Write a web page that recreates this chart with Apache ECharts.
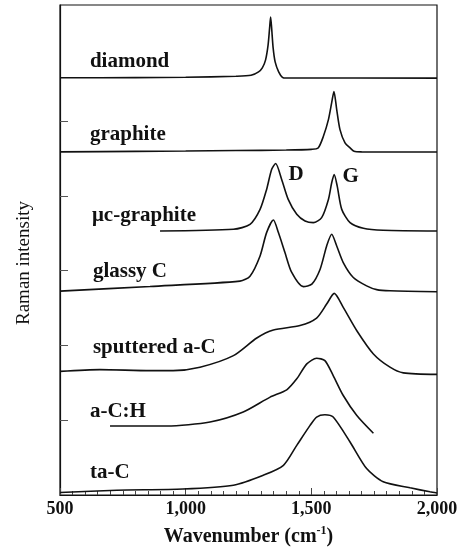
<!DOCTYPE html>
<html>
<head>
<meta charset="utf-8">
<script src="https://cdn.jsdelivr.net/npm/echarts@6/dist/echarts.min.js"></script>
<style>
html,body{margin:0;padding:0;background:#fff;}
#chart{width:464px;height:552px;}
</style>
</head>
<body>
<div id="chart"></div>
<script>
// Wavenumber (cm-1) and stacked Raman intensity (arbitrary units, offset per spectrum)
const diamondX = [500, 800, 1000, 1200, 1260, 1290, 1305, 1318, 1328, 1334, 1338, 1342, 1348, 1356, 1370, 1385, 1400, 2000];
const diamondY = [418.5, 418.7, 419, 420, 421, 424.5, 428.5, 436.5, 451.5, 468.5, 479.5, 468.5, 448.5, 434.5, 424.5, 419, 418.3, 418.2];

const graphiteX = [500, 800, 1000, 1200, 1400, 1500, 1527, 1548, 1568, 1581, 1590, 1601, 1614, 1634, 1654, 1670, 1700, 2000];
const graphiteY = [344.2, 344.7, 345, 345.5, 346, 346.7, 348, 359.8, 376.5, 393.5, 404.8, 386.5, 366.5, 353.2, 348.2, 344.8, 344.2, 344];

const mcGraphiteX = [898, 1190, 1256, 1296, 1322, 1342, 1358, 1382, 1408, 1442, 1475, 1508, 1541, 1568, 1581, 1591, 1603, 1621, 1654, 1707, 1786, 2000];
const mcGraphiteY = [264.8, 266.5, 271.5, 286.5, 306.5, 326.5, 332.5, 316.5, 296.5, 281.5, 274.8, 273.2, 278.2, 296.5, 313.2, 321.5, 309.8, 286.5, 273.2, 267.5, 265.5, 264.8];

const glassyX = [500, 858, 1216, 1256, 1296, 1322, 1349, 1369, 1395, 1422, 1468, 1502, 1535, 1561, 1581, 1601, 1627, 1667, 1720, 1760, 1813, 2000];
const glassyY = [204.5, 209.2, 214.5, 219.5, 239.8, 263.2, 275.8, 263.2, 243.2, 223.2, 209, 211.5, 226.5, 249.8, 261.5, 249.8, 233.2, 218.2, 209.8, 206, 204.8, 203.8];

const sputteredX = [500, 659, 858, 950, 1057, 1190, 1283, 1349, 1455, 1521, 1561, 1591, 1627, 1681, 1747, 1813, 1866, 2000];
const sputteredY = [124, 125.8, 124.8, 124.8, 128.2, 139.8, 157.5, 165.5, 170, 177.5, 191.5, 202.2, 188.2, 164.8, 141.5, 128.2, 122.5, 121];

const acHX = [699, 925, 1097, 1229, 1336, 1402, 1442, 1482, 1521, 1554, 1587, 1627, 1681, 1747];
const acHY = [69.2, 69.2, 73.2, 83.2, 98.2, 105.5, 116.5, 131.5, 137.2, 134.8, 119.8, 99.8, 79.8, 62];

const taCX = [500, 726, 989, 1190, 1309, 1389, 1442, 1495, 1521, 1554, 1587, 1654, 1720, 1786, 1893, 1972, 2000];
const taCY = [2.5, 4.8, 6, 9.8, 19.8, 29.8, 49.8, 69.8, 78.2, 80.5, 78.2, 53.2, 26.5, 13.2, 7.2, 3.2, 2];

const xTicks = [500, 1000, 1500, 2000];
const yTickValues = [75, 150, 225, 300, 375];

const seriesNames = ['diamond', 'graphite', 'μc-graphite', 'glassy C', 'sputtered a-C', 'a-C:H', 'ta-C'];
const seriesX = [diamondX, graphiteX, mcGraphiteX, glassyX, sputteredX, acHX, taCX];
const seriesY = [diamondY, graphiteY, mcGraphiteY, glassyY, sputteredY, acHY, taCY];

// annotation anchors (wavenumber, intensity) for text labels
const labelAnchors = [[619, 434.5], [619, 362], [627, 280], [631, 224.5], [631, 147.5], [619, 83.5], [619, 22]];
const peakLabels = [['D', 1409, 321], ['G', 1624, 319]];

const FONT = '"Liberation Serif", "DejaVu Serif", serif';
const ink = '#111';

const series = seriesNames.map((name, i) => {
  const s = {
    name: name,
    type: 'line',
    data: seriesX[i].map((x, j) => [x, seriesY[i][j]]),
    showSymbol: false,
    smooth: 0.25,
    lineStyle: { color: ink, width: 1.6 },
    silent: true,
    z: 3,
    markPoint: {
      symbol: 'circle',
      symbolSize: 0,
      silent: true,
      data: [{
        coord: labelAnchors[i],
        value: name,
        label: {
          show: true,
          position: 'right',
          distance: 0,
          formatter: name,
          fontFamily: FONT,
          fontWeight: 'bold',
          fontSize: 21,
          color: ink
        }
      }]
    }
  };
  if (i === 2) {
    peakLabels.forEach(p => {
      s.markPoint.data.push({
        coord: [p[1], p[2]],
        value: p[0],
        label: {
          show: true, position: 'right', distance: 0, formatter: p[0],
          fontFamily: FONT, fontWeight: 'bold', fontSize: 21, color: ink
        }
      });
    });
  }
  return s;
});

const chart = echarts.init(document.getElementById('chart'), null, { renderer: 'canvas' });
chart.setOption({
  backgroundColor: '#fff',
  animation: false,
  grid: {
    left: 60, right: 27, top: 5, bottom: 55.5,
    show: true, borderColor: ink, borderWidth: 1.2, backgroundColor: 'transparent'
  },
  xAxis: {
    type: 'value',
    min: 500, max: 2000, interval: 500,
    name: '{a|Wavenumber (cm}{s|-1}{a|)}',
    nameLocation: 'middle',
    nameGap: 30,
    nameTextStyle: {
      rich: {
        a: { fontFamily: FONT, fontWeight: 'bold', fontSize: 20, color: ink, verticalAlign: 'bottom', lineHeight: 22 },
        s: { fontFamily: FONT, fontWeight: 'bold', fontSize: 12, color: ink, verticalAlign: 'top', padding: [0, 0, 10, 0], lineHeight: 22 }
      }
    },
    axisLine: { show: true, lineStyle: { color: ink, width: 1.2 } },
    axisTick: { show: true, inside: true, length: 7, lineStyle: { color: '#444', width: 1 } },
    minorTick: { show: true, splitNumber: 10, length: 4, lineStyle: { color: '#444', width: 1 } },
    splitLine: { show: false },
    minorSplitLine: { show: false },
    axisLabel: {
      margin: 5,
      fontFamily: FONT, fontWeight: 'bold', fontSize: 18, color: ink,
      formatter: v => xTicks.includes(v) ? v.toLocaleString('en-US') : ''
    }
  },
  yAxis: {
    type: 'value',
    min: 0, max: 491.5,
    name: 'Raman intensity',
    nameLocation: 'middle',
    nameGap: 26,
    nameTextStyle: { fontFamily: FONT, fontSize: 19, color: ink, padding: [0, 26, 0, 0] },
    axisLine: { show: true, lineStyle: { color: ink, width: 1.2 } },
    axisTick: { show: true, inside: true, length: 8, customValues: yTickValues, lineStyle: { color: '#555', width: 1 } },
    axisLabel: { show: false },
    splitLine: { show: false }
  },
  series: series
});
</script>
</body>
</html>
